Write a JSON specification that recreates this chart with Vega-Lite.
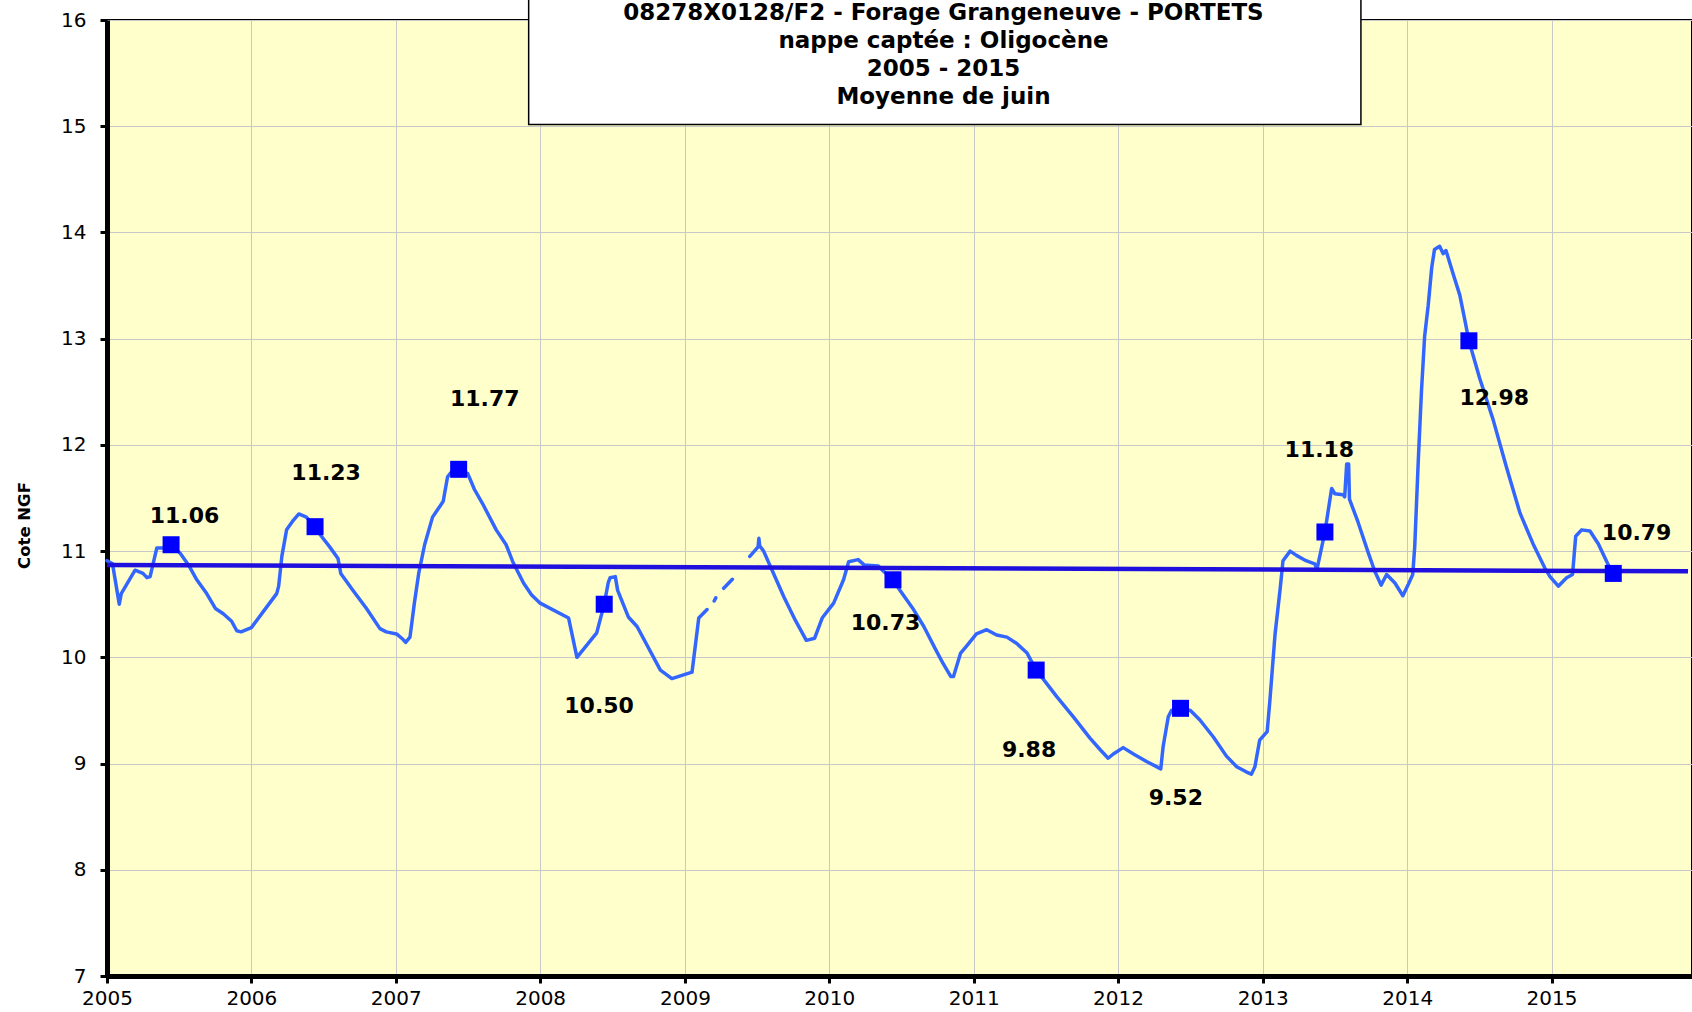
{
  "$schema": "https://vega.github.io/schema/vega-lite/v6.json",
  "width": 1585,
  "height": 956,
  "autosize": {"type": "none"},
  "padding": {"left": 107, "top": 20, "right": 0, "bottom": 36},
  "background": "white",
  "config": {
    "view": {"fill": "#ffffcc", "stroke": "black", "strokeWidth": 2},
    "font": "DejaVu Sans",
    "axis": {
      "domainColor": "black",
      "domainWidth": 5,
      "tickColor": "black",
      "tickWidth": 3,
      "tickSize": 7,
      "labelFont": "DejaVu Sans",
      "labelFontSize": 20,
      "labelColor": "black",
      "gridColor": "#c8c8c8",
      "gridWidth": 1,
      "labelOverlap": false
    }
  },
  "title": {
    "text": ["08278X0128/F2 - Forage Grangeneuve - PORTETS", "nappe captée : Oligocène", "2005 - 2015", "Moyenne de juin"],
    "font": "DejaVu Sans",
    "fontSize": 23,
    "fontWeight": "bold",
    "color": "black",
    "lineHeight": 28,
    "anchor": "middle",
    "frame": "group",
    "offset": 0,
    "dx": 44,
    "dy": 111
  },
  "datasets": {
    "levels": [
      {"date": "2005-01-01", "level": 10.91},
      {"date": "2005-01-15", "level": 10.88},
      {"date": "2005-02-01", "level": 10.50},
      {"date": "2005-02-06", "level": 10.60},
      {"date": "2005-03-13", "level": 10.82},
      {"date": "2005-04-02", "level": 10.79},
      {"date": "2005-04-12", "level": 10.75},
      {"date": "2005-04-20", "level": 10.76},
      {"date": "2005-05-07", "level": 11.03},
      {"date": "2005-05-23", "level": 11.03},
      {"date": "2005-06-12", "level": 11.06},
      {"date": "2005-07-05", "level": 10.98},
      {"date": "2005-07-26", "level": 10.87},
      {"date": "2005-08-16", "level": 10.73},
      {"date": "2005-09-10", "level": 10.60},
      {"date": "2005-10-02", "level": 10.46},
      {"date": "2005-10-22", "level": 10.41},
      {"date": "2005-11-12", "level": 10.34},
      {"date": "2005-11-25", "level": 10.25},
      {"date": "2005-12-06", "level": 10.24},
      {"date": "2006-01-01", "level": 10.28},
      {"date": "2006-01-31", "level": 10.43},
      {"date": "2006-03-06", "level": 10.60},
      {"date": "2006-03-11", "level": 10.67},
      {"date": "2006-03-19", "level": 10.95},
      {"date": "2006-03-31", "level": 11.20},
      {"date": "2006-04-17", "level": 11.29},
      {"date": "2006-05-01", "level": 11.35},
      {"date": "2006-05-20", "level": 11.32},
      {"date": "2006-06-11", "level": 11.23},
      {"date": "2006-06-27", "level": 11.14},
      {"date": "2006-07-18", "level": 11.04},
      {"date": "2006-08-08", "level": 10.93},
      {"date": "2006-08-15", "level": 10.79},
      {"date": "2006-09-15", "level": 10.63},
      {"date": "2006-10-19", "level": 10.46},
      {"date": "2006-11-22", "level": 10.27},
      {"date": "2006-12-08", "level": 10.24},
      {"date": "2007-01-03", "level": 10.22},
      {"date": "2007-01-19", "level": 10.17},
      {"date": "2007-01-26", "level": 10.14},
      {"date": "2007-02-06", "level": 10.19},
      {"date": "2007-02-17", "level": 10.51},
      {"date": "2007-02-28", "level": 10.79},
      {"date": "2007-03-15", "level": 11.06},
      {"date": "2007-04-04", "level": 11.32},
      {"date": "2007-04-24", "level": 11.43},
      {"date": "2007-05-01", "level": 11.47},
      {"date": "2007-05-12", "level": 11.70},
      {"date": "2007-05-25", "level": 11.76},
      {"date": "2007-06-09", "level": 11.77},
      {"date": "2007-07-02", "level": 11.73},
      {"date": "2007-07-19", "level": 11.58},
      {"date": "2007-08-08", "level": 11.45},
      {"date": "2007-09-12", "level": 11.20},
      {"date": "2007-10-07", "level": 11.06},
      {"date": "2007-10-25", "level": 10.89},
      {"date": "2007-11-20", "level": 10.70},
      {"date": "2007-12-10", "level": 10.59},
      {"date": "2008-01-01", "level": 10.51},
      {"date": "2008-03-13", "level": 10.37},
      {"date": "2008-04-03", "level": 10.00},
      {"date": "2008-05-23", "level": 10.23},
      {"date": "2008-06-11", "level": 10.50},
      {"date": "2008-06-21", "level": 10.70},
      {"date": "2008-06-26", "level": 10.75},
      {"date": "2008-07-09", "level": 10.76},
      {"date": "2008-07-15", "level": 10.63},
      {"date": "2008-08-11", "level": 10.38},
      {"date": "2008-09-02", "level": 10.29},
      {"date": "2008-10-31", "level": 9.88},
      {"date": "2008-11-29", "level": 9.80},
      {"date": "2009-01-19", "level": 9.86},
      {"date": "2009-02-05", "level": 10.37},
      {"date": "2009-02-26", "level": 10.45},
      {"date": "2009-03-05", "level": null},
      {"date": "2009-03-16", "level": 10.53},
      {"date": "2009-03-20", "level": 10.56},
      {"date": "2009-03-28", "level": null},
      {"date": "2009-04-09", "level": 10.65},
      {"date": "2009-05-01", "level": 10.735},
      {"date": "2009-05-20", "level": null},
      {"date": "2009-06-14", "level": 10.95},
      {"date": "2009-07-05", "level": 11.04},
      {"date": "2009-07-07", "level": 11.12},
      {"date": "2009-07-09", "level": 11.05},
      {"date": "2009-07-19", "level": 11.00},
      {"date": "2009-08-13", "level": 10.79},
      {"date": "2009-09-08", "level": 10.57},
      {"date": "2009-10-07", "level": 10.35},
      {"date": "2009-11-04", "level": 10.16},
      {"date": "2009-11-25", "level": 10.18},
      {"date": "2009-12-14", "level": 10.37},
      {"date": "2010-01-12", "level": 10.51},
      {"date": "2010-02-06", "level": 10.73},
      {"date": "2010-02-19", "level": 10.90},
      {"date": "2010-03-15", "level": 10.92},
      {"date": "2010-03-30", "level": 10.87},
      {"date": "2010-05-05", "level": 10.86},
      {"date": "2010-05-18", "level": 10.81},
      {"date": "2010-06-11", "level": 10.73},
      {"date": "2010-06-29", "level": 10.63},
      {"date": "2010-08-02", "level": 10.45},
      {"date": "2010-08-28", "level": 10.29},
      {"date": "2010-09-26", "level": 10.08},
      {"date": "2010-10-16", "level": 9.94},
      {"date": "2010-11-04", "level": 9.82},
      {"date": "2010-11-11", "level": 9.82},
      {"date": "2010-11-29", "level": 10.04},
      {"date": "2010-12-15", "level": 10.11},
      {"date": "2011-01-08", "level": 10.22},
      {"date": "2011-02-03", "level": 10.26},
      {"date": "2011-02-28", "level": 10.21},
      {"date": "2011-03-26", "level": 10.19},
      {"date": "2011-04-20", "level": 10.13},
      {"date": "2011-05-16", "level": 10.04},
      {"date": "2011-06-08", "level": 9.88},
      {"date": "2011-06-25", "level": 9.80},
      {"date": "2011-07-30", "level": 9.63},
      {"date": "2011-09-10", "level": 9.44},
      {"date": "2011-10-22", "level": 9.24},
      {"date": "2011-11-17", "level": 9.13},
      {"date": "2011-12-07", "level": 9.05},
      {"date": "2011-12-20", "level": 9.09},
      {"date": "2012-01-14", "level": 9.15},
      {"date": "2012-02-09", "level": 9.09},
      {"date": "2012-03-13", "level": 9.02},
      {"date": "2012-04-18", "level": 8.95},
      {"date": "2012-04-24", "level": 9.16},
      {"date": "2012-05-07", "level": 9.44},
      {"date": "2012-05-15", "level": 9.50},
      {"date": "2012-06-07", "level": 9.52},
      {"date": "2012-07-02", "level": 9.50},
      {"date": "2012-07-26", "level": 9.41},
      {"date": "2012-08-29", "level": 9.25},
      {"date": "2012-10-01", "level": 9.07},
      {"date": "2012-10-27", "level": 8.97},
      {"date": "2012-11-21", "level": 8.92},
      {"date": "2012-12-03", "level": 8.90},
      {"date": "2012-12-12", "level": 8.97},
      {"date": "2012-12-24", "level": 9.22},
      {"date": "2013-01-12", "level": 9.30},
      {"date": "2013-01-19", "level": 9.60},
      {"date": "2013-02-01", "level": 10.22},
      {"date": "2013-02-14", "level": 10.65},
      {"date": "2013-02-21", "level": 10.91},
      {"date": "2013-03-11", "level": 11.00},
      {"date": "2013-03-27", "level": 10.96},
      {"date": "2013-04-20", "level": 10.91},
      {"date": "2013-05-12", "level": 10.88},
      {"date": "2013-05-18", "level": 10.83},
      {"date": "2013-06-07", "level": 11.18},
      {"date": "2013-06-24", "level": 11.59},
      {"date": "2013-07-02", "level": 11.54},
      {"date": "2013-07-23", "level": 11.53},
      {"date": "2013-07-27", "level": 11.51},
      {"date": "2013-08-01", "level": 11.82},
      {"date": "2013-08-06", "level": 11.82},
      {"date": "2013-08-08", "level": 11.49},
      {"date": "2013-08-30", "level": 11.27},
      {"date": "2013-09-24", "level": 10.99},
      {"date": "2013-10-11", "level": 10.81},
      {"date": "2013-10-27", "level": 10.68},
      {"date": "2013-11-10", "level": 10.78},
      {"date": "2013-12-01", "level": 10.70},
      {"date": "2013-12-21", "level": 10.58},
      {"date": "2014-01-03", "level": 10.68},
      {"date": "2014-01-15", "level": 10.78},
      {"date": "2014-01-20", "level": 11.04},
      {"date": "2014-01-29", "level": 11.85},
      {"date": "2014-02-06", "level": 12.50},
      {"date": "2014-02-14", "level": 13.02},
      {"date": "2014-02-23", "level": 13.31},
      {"date": "2014-03-04", "level": 13.67},
      {"date": "2014-03-11", "level": 13.84},
      {"date": "2014-03-24", "level": 13.87},
      {"date": "2014-04-02", "level": 13.80},
      {"date": "2014-04-09", "level": 13.83},
      {"date": "2014-04-28", "level": 13.60},
      {"date": "2014-05-14", "level": 13.41},
      {"date": "2014-05-27", "level": 13.17},
      {"date": "2014-06-06", "level": 12.98},
      {"date": "2014-07-03", "level": 12.63},
      {"date": "2014-08-06", "level": 12.24},
      {"date": "2014-09-09", "level": 11.79},
      {"date": "2014-10-13", "level": 11.36},
      {"date": "2014-11-15", "level": 11.07},
      {"date": "2014-12-15", "level": 10.84},
      {"date": "2014-12-28", "level": 10.76},
      {"date": "2015-01-18", "level": 10.67},
      {"date": "2015-02-08", "level": 10.75},
      {"date": "2015-02-23", "level": 10.78},
      {"date": "2015-03-03", "level": 11.14},
      {"date": "2015-03-18", "level": 11.20},
      {"date": "2015-04-08", "level": 11.19},
      {"date": "2015-04-29", "level": 11.07},
      {"date": "2015-05-23", "level": 10.88},
      {"date": "2015-06-06", "level": 10.79}
    ],
    "june": [
      {"date": "2005-06-12", "level": 11.06, "labelDate": "2005-07-16", "labelLevel": 11.33},
      {"date": "2006-06-11", "level": 11.23, "labelDate": "2006-07-09", "labelLevel": 11.74},
      {"date": "2007-06-09", "level": 11.77, "labelDate": "2007-08-14", "labelLevel": 12.43},
      {"date": "2008-06-11", "level": 10.50, "labelDate": "2008-05-29", "labelLevel": 9.54},
      {"date": "2010-06-11", "level": 10.73, "labelDate": "2010-05-23", "labelLevel": 10.32},
      {"date": "2011-06-08", "level": 9.88, "labelDate": "2011-05-21", "labelLevel": 9.13},
      {"date": "2012-06-07", "level": 9.52, "labelDate": "2012-05-26", "labelLevel": 8.68},
      {"date": "2013-06-07", "level": 11.18, "labelDate": "2013-05-24", "labelLevel": 11.95},
      {"date": "2014-06-06", "level": 12.98, "labelDate": "2014-08-09", "labelLevel": 12.44},
      {"date": "2015-06-06", "level": 10.79, "labelDate": "2015-08-04", "labelLevel": 11.17}
    ],
    "trend": [
      {"date": "2005-01-01", "level": 10.87},
      {"date": "2015-12-12", "level": 10.81}
    ],
    "titleBox": [
      {"date": "2007-12-03", "date2": "2013-09-06", "level": 15.016, "level2": 16.2}
    ]
  },
  "encoding": {
    "x": {
      "field": "date",
      "type": "temporal",
      "scale": {"domain": [{"year": 2005, "month": 1, "date": 1, "utc": true}, {"year": 2015, "month": 12, "date": 22, "utc": true}]},
      "axis": {
        "title": null,
        "format": "%Y",
        "tickCount": {"interval": "year", "step": 1},
        "labelPadding": 5,
        "grid": true,
        "labelFlush": false
      }
    },
    "y": {
      "field": "level",
      "type": "quantitative",
      "scale": {"domain": [7, 16], "nice": false, "zero": false},
      "axis": {
        "title": "Cote NGF",
        "titleFont": "DejaVu Sans",
        "titleFontSize": 16.5,
        "titleFontWeight": "bold",
        "titleColor": "black",
        "titlePadding": 28,
        "titleY": 505,
        "values": [7, 8, 9, 10, 11, 12, 13, 14, 15, 16],
        "labelPadding": 14,
        "grid": true
      }
    }
  },
  "layer": [
    {
      "data": {"name": "levels"},
      "mark": {"type": "line", "color": "#3366ff", "strokeWidth": 3.5, "strokeJoin": "round", "strokeCap": "round", "invalid": "break-paths-show-domains"}
    },
    {
      "data": {"name": "trend"},
      "mark": {"type": "line", "color": "#2010dd", "strokeWidth": 4.5}
    },
    {
      "data": {"name": "june"},
      "mark": {"type": "point", "shape": "square", "filled": true, "size": 289, "color": "#0000ff", "opacity": 1}
    },
    {
      "data": {"name": "june"},
      "mark": {"type": "text", "font": "DejaVu Sans", "fontSize": 22, "fontWeight": "bold", "color": "black", "align": "center", "baseline": "middle"},
      "encoding": {
        "x": {"field": "labelDate", "type": "temporal"},
        "y": {"field": "labelLevel", "type": "quantitative"},
        "text": {"field": "level", "type": "quantitative", "format": ".2f"}
      }
    },
    {
      "data": {"name": "titleBox"},
      "mark": {"type": "rect", "fill": "white", "stroke": "black", "strokeWidth": 1.5, "clip": false},
      "encoding": {
        "x2": {"field": "date2"},
        "y2": {"field": "level2"}
      }
    }
  ]
}
